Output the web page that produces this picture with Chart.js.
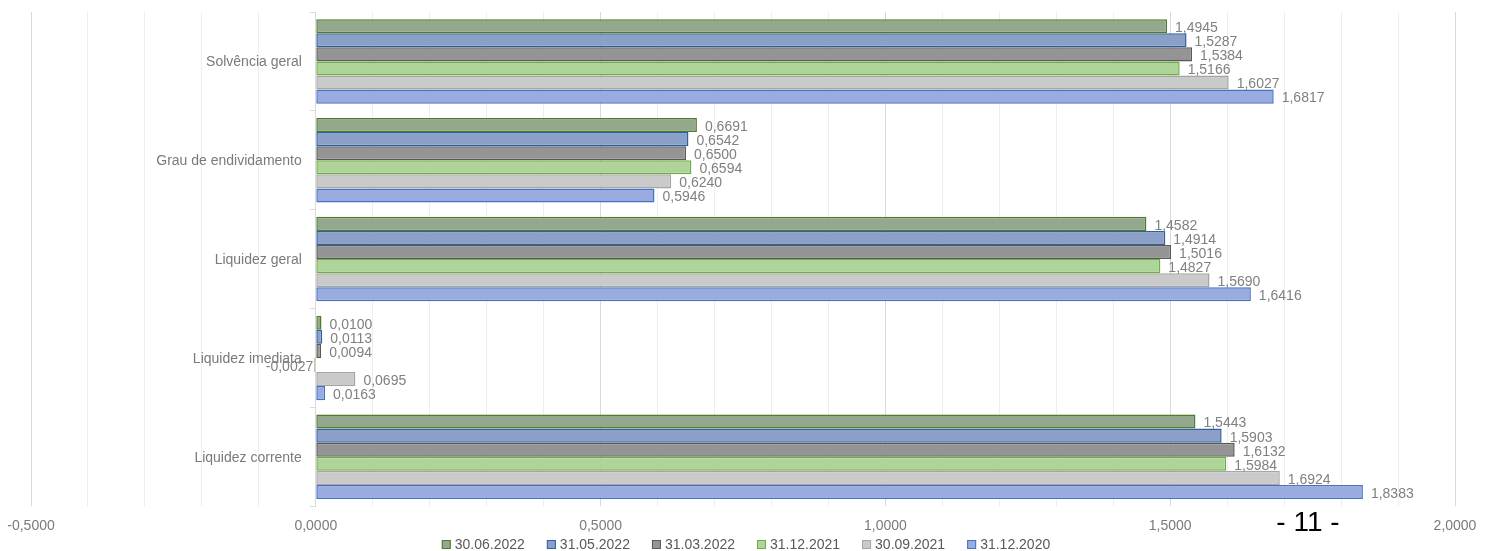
<!DOCTYPE html>
<html>
<head>
<meta charset="utf-8">
<script src="https://cdn.jsdelivr.net/npm/chart.js@4/dist/chart.umd.min.js"></script>
<style>
  html, body { margin: 0; padding: 0; background: #ffffff; }
  #wrap { width: 1492px; height: 551px; position: relative; }
</style>
</head>
<body>
<div id="wrap"><canvas id="indicadoresChart"></canvas></div>
<script>
// Dados do gráfico
const categorias = ['Solvência geral', 'Grau de endividamento', 'Liquidez geral', 'Liquidez imediata', 'Liquidez corrente'];
const series = ['30.06.2022', '31.05.2022', '31.03.2022', '31.12.2021', '30.09.2021', '31.12.2020'];
const v30062022 = [1.4945, 0.6691, 1.4582, 0.0100, 1.5443];
const v31052022 = [1.5287, 0.6542, 1.4914, 0.0113, 1.5903];
const v31032022 = [1.5384, 0.6500, 1.5016, 0.0094, 1.6132];
const v31122021 = [1.5166, 0.6594, 1.4827, -0.0027, 1.5984];
const v30092021 = [1.6027, 0.6240, 1.5690, 0.0695, 1.6924];
const v31122020 = [1.6817, 0.5946, 1.6416, 0.0163, 1.8383];
const pagina = '- 11 -';

const valores = [v30062022, v31052022, v31032022, v31122021, v30092021, v31122020];
const preenchimentos = ['#93a88c', '#8ba0c7', '#949494', '#aed49a', '#cacaca', '#99abdf'];
const bordas = ['#4f7b2e', '#2f5f9e', '#595959', '#70ad47', '#a5a5a5', '#4472c4'];

const fonte = "'Liberation Sans', Arial, sans-serif";
const formatar = v => v.toFixed(4).replace('.', ',');

// rótulos, nomes das categorias, legenda e número da página
const rotulosPlugin = {
    id: 'rotulos',
    afterDatasetsDraw(chart) {
        const ctx = chart.ctx;
        ctx.save();
        ctx.font = '14px ' + fonte;
        ctx.fillStyle = '#808080';
        ctx.textBaseline = 'middle';
        chart.data.datasets.forEach((ds, i) => {
            chart.getDatasetMeta(i).data.forEach((bar, j) => {
                const v = ds.data[j];
                if (v < 0) {
                    ctx.textAlign = 'right';
                    ctx.fillText(formatar(v), bar.x - 1, bar.y + 2);
                } else {
                    ctx.textAlign = 'left';
                    ctx.fillText(formatar(v), bar.x + 8, bar.y + 2);
                }
            });
        });
        const xs = chart.scales.x, ys = chart.scales.y;
        ctx.fillStyle = '#7a7a7a';
        ctx.textAlign = 'right';
        categorias.forEach((c, j) => {
            ctx.fillText(c, xs.getPixelForValue(0) - 14, ys.getPixelForValue(j) + 1);
        });

        // legenda
        ctx.textAlign = 'left';
        const gap = 22;
        const larguras = series.map(s => 9 + 4 + ctx.measureText(s).width);
        const total = larguras.reduce((a, b) => a + b, 0) + gap * (series.length - 1);
        let x = chart.width / 2 - total / 2;
        const yLeg = 545;
        series.forEach((s, i) => {
            ctx.fillStyle = preenchimentos[i];
            ctx.fillRect(x, yLeg - 5, 9, 9);
            ctx.strokeStyle = bordas[i];
            ctx.lineWidth = 1;
            ctx.strokeRect(x + 0.5, yLeg - 4.5, 8, 8);
            ctx.fillStyle = '#595959';
            ctx.fillText(s, x + 13, yLeg);
            x += larguras[i] + gap;
        });

        ctx.font = '28px ' + fonte;
        ctx.fillStyle = '#000000';
        ctx.textAlign = 'center';
        ctx.textBaseline = 'alphabetic';
        ctx.fillText(pagina, 1308, 531);
        ctx.restore();
    }
};

const ehMaior = v => Math.abs(v * 2 - Math.round(v * 2)) < 1e-6;

const ctx = document.getElementById('indicadoresChart').getContext('2d');
new Chart(ctx, {
    type: 'bar',
    data: {
        labels: categorias,
        datasets: series.map((s, i) => ({
            label: s,
            data: valores[i],
            backgroundColor: preenchimentos[i],
            borderColor: bordas[i],
            borderWidth: 1.5,
            borderSkipped: false,
            categoryPercentage: 0.855,
            barPercentage: 1.0
        }))
    },
    options: {
        indexAxis: 'y',
        responsive: true,
        maintainAspectRatio: false,
        animation: false,
        layout: { padding: { left: 31, right: 37, top: 12, bottom: 4 } },
        scales: {
            x: {
                min: -0.5,
                max: 2.0,
                afterFit: s => { s.paddingLeft = 0; s.paddingRight = 0; },
                ticks: {
                    stepSize: 0.1,
                    autoSkip: false,
                    maxRotation: 0,
                    padding: 12,
                    color: '#7a7a7a',
                    font: { family: fonte, size: 14 },
                    callback: v => ehMaior(v) ? formatar(v) : ''
                },
                grid: {
                    color: c => ehMaior(c.tick.value) ? '#d9d9d9' : '#eeeeee',
                    lineWidth: 1,
                    tickLength: 0
                },
                border: { display: false }
            },
            y: {
                position: { x: 0 },
                ticks: { display: false },
                grid: {
                    offset: true,
                    drawOnChartArea: false,
                    tickLength: 5,
                    color: '#d9d9d9'
                },
                border: { display: true, color: '#d9d9d9' }
            }
        },
        plugins: {
            legend: { display: false },
            tooltip: { enabled: false }
        }
    },
    plugins: [rotulosPlugin]
});
</script>
</body>
</html>
